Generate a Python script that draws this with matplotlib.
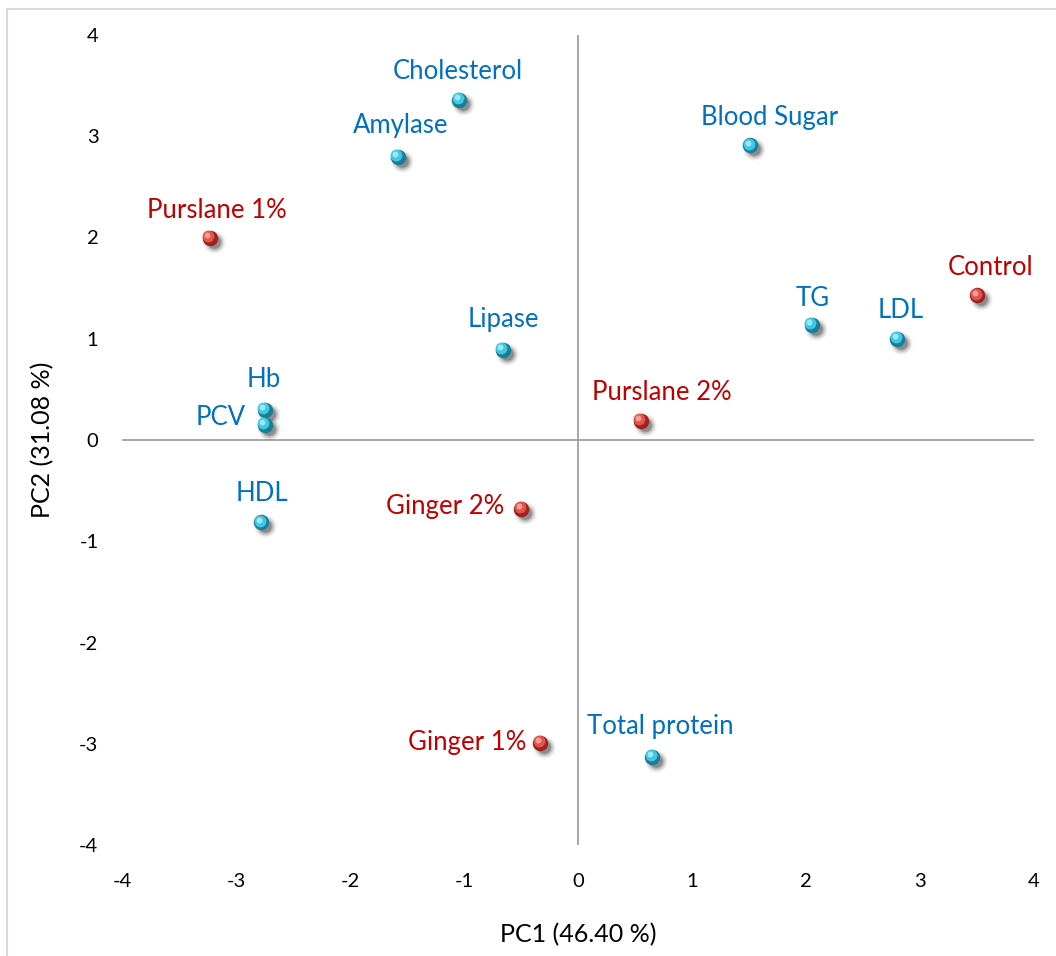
import numpy as np
import matplotlib.pyplot as plt
import matplotlib.transforms as mt
from matplotlib.patches import Rectangle

# PCA scores: variables (blue) and treatments (red)
var_names = ['Cholesterol', 'Amylase', 'Blood Sugar', 'TG', 'LDL', 'Lipase',
             'Hb', 'PCV', 'HDL', 'Total protein']
var_pc1 = [-1.04, -1.58, 1.51, 2.05, 2.80, -0.66, -2.75, -2.75, -2.78, 0.65]
var_pc2 = [3.36, 2.80, 2.91, 1.14, 1.00, 0.89, 0.30, 0.15, -0.81, -3.13]

trt_names = ['Purslane 1%', 'Control', 'Purslane 2%', 'Ginger 2%', 'Ginger 1%']
trt_pc1 = [-3.23, 3.50, 0.55, -0.50, -0.33]
trt_pc2 = [2.00, 1.43, 0.19, -0.68, -2.99]

# label placement (offset in pixels, alignment)
label_pos = {
    'Cholesterol': (-2, 28, 'center'), 'Amylase': (3, 31, 'center'),
    'Blood Sugar': (19, 28, 'center'), 'TG': (1, 26, 'center'),
    'LDL': (3, 28, 'center'), 'Lipase': (1, 30, 'center'),
    'Hb': (-1, 30, 'center'), 'PCV': (-19, 7, 'right'),
    'HDL': (1, 29, 'center'), 'Total protein': (8, 30, 'center'),
    'Purslane 1%': (7, 27, 'center'), 'Control': (14, 28, 'center'),
    'Purslane 2%': (21, 28, 'center'), 'Ginger 2%': (-17, 2, 'right'),
    'Ginger 1%': (-14, 0, 'right'),
}

plt.rcParams['font.family'] = ['Lato', 'DejaVu Sans']
plt.rcParams['axes.unicode_minus'] = False

fig = plt.figure(figsize=(10.56, 9.56), dpi=100)
fig.patches.append(Rectangle((7 / 1056, -0.1), 1.2, (956 - 9) / 956 + 0.1,
                             transform=fig.transFigure, fill=False,
                             edgecolor='#d9d9d9', linewidth=1.5))
ax = fig.add_axes([122 / 1056, 111 / 956, 912 / 1056, 810 / 956])
ax.set_xlim(-4, 4)
ax.set_ylim(-4, 4)
for s in ax.spines.values():
    s.set_visible(False)
ax.axhline(0, color='#a0a0a0', lw=1.3, zorder=1)
ax.axvline(0, color='#a0a0a0', lw=1.3, zorder=1)
ax.set_xticks(np.arange(-4, 5, 1))
ax.set_yticks(np.arange(-4, 5, 1))
ax.tick_params(length=0, labelsize=14.5, colors='black')
ax.tick_params(axis='x', pad=20)
ax.tick_params(axis='y', pad=17)
ax.set_xlabel('PC1 (46.40 %)', fontsize=18, labelpad=24)
ax.set_ylabel('PC2 (31.08 %)', fontsize=18, labelpad=18)


def spheres(x, y, base, dark, light):
    x = np.asarray(x)
    y = np.asarray(y)
    off = ax.transData
    # soft drop shadow
    sh = off + mt.ScaledTranslation(4 / 100, -4 / 100, fig.dpi_scale_trans)
    for size, a in [(260, 0.05), (200, 0.07), (150, 0.10), (110, 0.14), (80, 0.18)]:
        ax.scatter(x, y, s=size, color='black', alpha=a, lw=0, transform=sh, zorder=2)
    ax.scatter(x, y, s=125, color=dark, lw=0, zorder=3)
    hl = off + mt.ScaledTranslation(-1.5 / 100, 1.5 / 100, fig.dpi_scale_trans)
    ax.scatter(x, y, s=72, color=base, lw=0, transform=hl, zorder=4)
    hl2 = off + mt.ScaledTranslation(-2.5 / 100, 2.5 / 100, fig.dpi_scale_trans)
    ax.scatter(x, y, s=18, color=light, lw=0, alpha=0.7, transform=hl2, zorder=5)


spheres(var_pc1, var_pc2, '#3fc8e4', '#1a7f96', '#c9f3fb')
spheres(trt_pc1, trt_pc2, '#e5534d', '#9e2320', '#f7c3bf')


def labels(names, xs, ys, color):
    for n, x, y in zip(names, xs, ys):
        dx, dy, ha = label_pos[n]
        ax.annotate(n, (x, y), xytext=(dx * 0.72, dy * 0.72),
                    textcoords='offset points', ha=ha, va='center',
                    fontsize=18.5, color=color, zorder=6)


labels(var_names, var_pc1, var_pc2, '#0070c0')
labels(trt_names, trt_pc1, trt_pc2, '#c00000')

fig.savefig('out.png', dpi=100)
